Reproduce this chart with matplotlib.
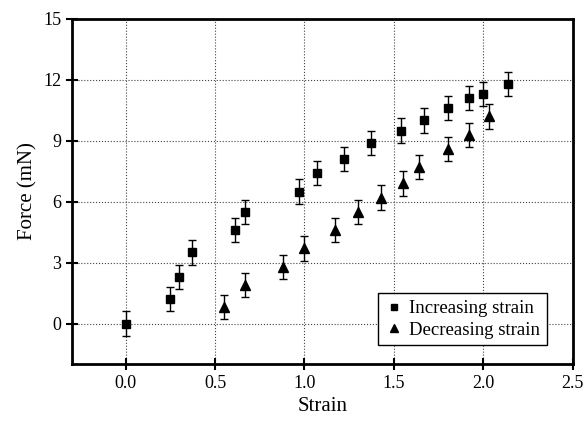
import matplotlib
matplotlib.use('Agg')
from matplotlib import pyplot as plt
from matplotlib.lines import Line2D

# Increasing strain
inc_strain = [0.0, 0.25, 0.30, 0.37, 0.61, 0.67, 0.97, 1.07, 1.22, 1.37, 1.54, 1.67, 1.80, 1.92, 2.00, 2.14]
inc_force = [0.0, 1.2, 2.3, 3.5, 4.6, 5.5, 6.5, 7.4, 8.1, 8.9, 9.5, 10.0, 10.6, 11.1, 11.3, 11.8]
inc_err = [0.6] * len(inc_strain)

# Decreasing strain
dec_strain = [0.55, 0.67, 0.88, 1.00, 1.17, 1.30, 1.43, 1.55, 1.64, 1.80, 1.92, 2.03]
dec_force = [0.8, 1.9, 2.8, 3.7, 4.6, 5.5, 6.2, 6.9, 7.7, 8.6, 9.3, 10.2]
dec_err = [0.6] * len(dec_strain)

xticks = [0.0, 0.5, 1.0, 1.5, 2.0, 2.5]
yticks = [0, 3, 6, 9, 12, 15]

plt.rcParams['font.family'] = 'Liberation Serif'

fig = plt.figure(figsize=(5.85, 4.21), dpi=100)
ax = fig.add_axes([0.123, 0.135, 0.856, 0.82])

ax.errorbar(inc_strain, inc_force, yerr=inc_err, fmt='s', color='black',
            markersize=6, capsize=3, elinewidth=1, capthick=1)
ax.errorbar(dec_strain, dec_force, yerr=dec_err, fmt='^', color='black',
            markersize=6.5, capsize=3, elinewidth=1, capthick=1)

ax.set_xlim(-0.3, 2.5)
ax.set_ylim(-2.0, 15)
ax.set_xticks(xticks)
ax.set_xticklabels(['%.1f' % v for v in xticks])
ax.set_yticks(yticks)
ax.grid(True, linestyle=':', color='#444444', linewidth=0.8)
ax.tick_params(direction='inout', length=8, width=1.5, labelsize=13)
for s in ax.spines.values():
    s.set_linewidth(2)

ax.set_xlabel('Strain', fontsize=15)
ax.set_ylabel('Force (mN)', fontsize=15)

handles = [Line2D([], [], marker='s', color='black', linestyle='none', markersize=5),
           Line2D([], [], marker='^', color='black', linestyle='none', markersize=5.5)]
leg = ax.legend(handles, ['Increasing strain', 'Decreasing strain'],
                loc='lower right', bbox_to_anchor=(0.967, 0.027), fontsize=13.5,
                handletextpad=0.3, handlelength=1.0, borderpad=0.35,
                labelspacing=0.25, fancybox=False, framealpha=1,
                edgecolor='black')
leg.get_frame().set_linewidth(1)

fig.savefig('out.png', dpi=100)
